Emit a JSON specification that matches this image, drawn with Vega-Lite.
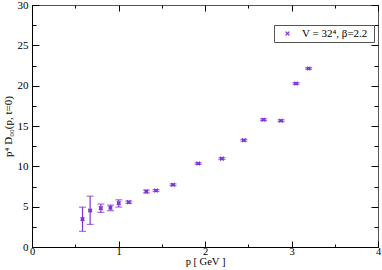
{
  "$schema": "https://vega.github.io/schema/vega-lite/v6.json",
  "width": 346,
  "height": 242,
  "autosize": "none",
  "padding": {"left": 32, "top": 5, "right": 4, "bottom": 23},
  "background": "white",
  "config": {
    "view": {"stroke": "#555", "strokeWidth": 1},
    "font": "Liberation Serif",
    "axis": {"grid": false, "labelFont": "Liberation Serif", "titleFont": "Liberation Serif", "labelFontSize": 11, "titleFontSize": 11, "titleFontWeight": "normal", "labelColor": "#000", "titleColor": "#000", "tickColor": "#000", "domainColor": "#000"}
  },
  "data": {"values": [
    {"p": 0.584, "v": 3.46, "lo": 1.94, "hi": 4.94, "series": "V = 32⁴,  β=2.2"},
    {"p": 0.672, "v": 4.53, "lo": 2.80, "hi": 6.30, "series": "V = 32⁴,  β=2.2"},
    {"p": 0.796, "v": 4.82, "lo": 4.29, "hi": 5.32, "series": "V = 32⁴,  β=2.2"},
    {"p": 0.907, "v": 4.87, "lo": 4.50, "hi": 5.19, "series": "V = 32⁴,  β=2.2"},
    {"p": 1.003, "v": 5.44, "lo": 4.95, "hi": 5.85, "series": "V = 32⁴,  β=2.2"},
    {"p": 1.119, "v": 5.56, "lo": 5.42, "hi": 5.70, "series": "V = 32⁴,  β=2.2"},
    {"p": 1.322, "v": 6.88, "lo": 6.70, "hi": 7.06, "series": "V = 32⁴,  β=2.2"},
    {"p": 1.434, "v": 7.00, "lo": 6.88, "hi": 7.12, "series": "V = 32⁴,  β=2.2"},
    {"p": 1.630, "v": 7.71, "lo": 7.60, "hi": 7.82, "series": "V = 32⁴,  β=2.2"},
    {"p": 1.922, "v": 10.35, "lo": 10.25, "hi": 10.45, "series": "V = 32⁴,  β=2.2"},
    {"p": 2.195, "v": 10.96, "lo": 10.85, "hi": 11.07, "series": "V = 32⁴,  β=2.2"},
    {"p": 2.449, "v": 13.23, "lo": 13.12, "hi": 13.34, "series": "V = 32⁴,  β=2.2"},
    {"p": 2.676, "v": 15.78, "lo": 15.67, "hi": 15.89, "series": "V = 32⁴,  β=2.2"},
    {"p": 2.879, "v": 15.66, "lo": 15.55, "hi": 15.77, "series": "V = 32⁴,  β=2.2"},
    {"p": 3.052, "v": 20.27, "lo": 20.17, "hi": 20.37, "series": "V = 32⁴,  β=2.2"},
    {"p": 3.198, "v": 22.13, "lo": 22.03, "hi": 22.23, "series": "V = 32⁴,  β=2.2"}
  ]},
  "resolve": {"axis": {"x": "independent", "y": "independent"}},
  "layer": [
    {
      "mark": {"type": "rule", "color": "#8033d9", "strokeWidth": 1.2},
      "encoding": {
        "x": {"field": "p", "type": "quantitative", "scale": {"domain": [0, 4], "nice": false, "zero": false},
          "axis": {"orient": "bottom", "values": [0, 1, 2, 3, 4], "tickSize": -6, "labelPadding": 5, "labelFontSize": 10.5, "title": "p  [ GeV ]", "titleFontSize": 10.5, "titlePadding": 0, "labelFlush": false}},
        "y": {"field": "lo", "type": "quantitative", "scale": {"domain": [0, 30], "nice": false, "zero": false},
          "axis": {"orient": "left", "values": [0, 5, 10, 15, 20, 25, 30], "tickSize": -7, "labelPadding": 11, "title": "p⁴ D₀₀(p, t=0)", "titlePadding": 4, "labelFlush": false}},
        "y2": {"field": "hi"}
      }
    },
    {
      "mark": {"type": "tick", "orient": "horizontal", "color": "#8033d9", "size": 7, "thickness": 1.2},
      "encoding": {
        "x": {"field": "p", "type": "quantitative", "scale": {"domain": [0, 4], "nice": false, "zero": false},
          "axis": {"orient": "bottom", "values": [0.5, 1.5, 2.5, 3.5], "tickSize": -3, "labels": false, "domain": false, "title": null}},
        "y": {"field": "lo", "type": "quantitative", "scale": {"domain": [0, 30], "nice": false, "zero": false},
          "axis": {"orient": "left", "values": [2.5, 7.5, 12.5, 17.5, 22.5, 27.5], "tickSize": -4, "labels": false, "domain": false, "title": null}}
      }
    },
    {
      "mark": {"type": "tick", "orient": "horizontal", "color": "#8033d9", "size": 7, "thickness": 1.2},
      "encoding": {
        "x": {"field": "p", "type": "quantitative", "scale": {"domain": [0, 4], "nice": false, "zero": false},
          "axis": {"orient": "top", "values": [0, 1, 2, 3, 4], "tickSize": -6, "labels": false, "domain": false, "title": null}},
        "y": {"field": "hi", "type": "quantitative", "scale": {"domain": [0, 30], "nice": false, "zero": false},
          "axis": {"orient": "right", "values": [0, 5, 10, 15, 20, 25, 30], "tickSize": -7, "labels": false, "domain": false, "title": null}}
      }
    },
    {
      "mark": {"type": "point", "shape": "M-1,-1L1,1M-1,1L1,-1M-1,0L1,0", "filled": false, "size": 13, "strokeWidth": 1.4, "opacity": 1},
      "encoding": {
        "x": {"field": "p", "type": "quantitative", "scale": {"domain": [0, 4], "nice": false, "zero": false},
          "axis": {"orient": "top", "values": [0.5, 1.5, 2.5, 3.5], "tickSize": -3, "labels": false, "domain": false, "title": null}},
        "y": {"field": "v", "type": "quantitative", "scale": {"domain": [0, 30], "nice": false, "zero": false},
          "axis": {"orient": "right", "values": [2.5, 7.5, 12.5, 17.5, 22.5, 27.5], "tickSize": -4, "labels": false, "domain": false, "title": null}},
        "color": {"field": "series", "type": "nominal", "scale": {"range": ["#8033d9"]},
          "legend": {"title": null, "orient": "none", "legendX": 242, "legendY": 20, "strokeColor": "#555", "fillColor": "white", "padding": 3, "labelFont": "Liberation Serif", "labelFontSize": 11, "labelColor": "#000", "symbolType": "M-1,-1L1,1M-1,1L1,-1", "symbolSize": 14, "symbolStrokeWidth": 1.4, "symbolOffset": 5, "labelOffset": 9, "cornerRadius": 0}}
      }
    }
  ]
}
